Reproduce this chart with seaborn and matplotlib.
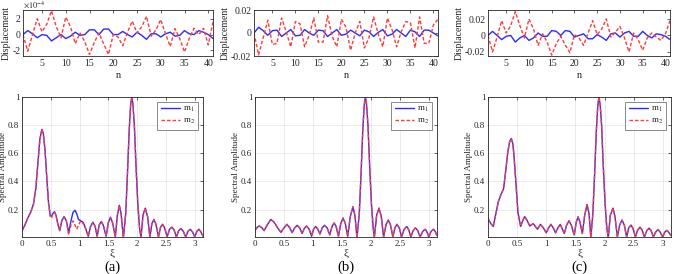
import numpy as np
import pandas as pd
import matplotlib
matplotlib.use("Agg")
import matplotlib.pyplot as plt
import seaborn as sns

# ---------------- data ----------------
n_steps = list(range(1, 42))

# top row displacement (a) in units of 1e-4
disp_a_m1 = [0, 0.5, 0.1, -0.4, 0.0, -0.1, -0.8, -0.4, 0.0, -0.5, -0.2, 0.3, -0.1, 0.0, 0.6,
             0.6, 0.0, 0.7, 0.7, 0.0, 0.0, 0.4, 0.0, -0.3, 0.3, -0.1, -0.6, 0.1, 0.1, -0.3,
             0.1, 0.3, -0.2, -0.1, 0.5, 0.1, 0.0, 0.5, 0.3, 0.0, -0.5]
disp_a_m2 = [0, -2.1, 0.0, 2.0, 0.35, 1.3, 3.0, 1.0, -0.4, 2.2, 1.0, -1.15, 0.2, -0.9, -2.5,
             -1.0, 0.2, -1.2, -2.5, 0.0, -0.3, -1.4, 0.3, 1.7, 0.2, 1.0, 2.3, -0.2, 0.6, 1.9,
             0.1, -1.5, 0.75, -0.5, -2.2, -0.5, 0.8, 0.0, 0.8, -1.3, 1.6]
# top row displacement (b) in units of 1e-3
disp_b_m1 = [0, 5, 2, -2, 2, 2.5, -3, 0, 3, -2.5, -2, 3, 0, -2, 2.5, 2, -3, 0, 3, -2, -1,
             2.5, 0, -2.5, 2.5, 1, -3, 0.5, 3, -2.5, -1, 3, 0, -3, 2.5, 1, -3, 2.5, 2.5, 0, -2.5]
disp_b_m2 = [0, -19, -4, 11, -10, -9, 13, 1, -12, 10, 8, -12, -2, 13, -8, -8, 15, -3, -12, 12,
             5, -15, 0, 10, -13, -4, 14, -1, -12, 13, 3, -12, 1, 10, 9, -13, 14, -9, -9, 7, 12]
# top row displacement (c) in units of 1e-3
disp_c_m1 = [0, 5, 0, -5, -1, 0, -8, -3, 0, -6, -3, 3, -1, -1, 6, 5, 0, 6, 5, -2, 0, 2, -4,
             -4, 1, -2, -6, 2, 3, -2, 3, 5, -1, -1, 5, 0, -3, 2, 1, -1, -5]
disp_c_m2 = [0, -20, -2, 18, 3, 12, 29, 12, -3, 20, 8, -12, 2, -8, -24, -10, -1, -12, -21, 1,
             -3, -12, 3, 18, 1, 8, 20, -2, 4, 11, -3, -20, 3, -5, -18, -3, 3, -2, -6, 2, 18]

# spectra (a)
xi_a = [0.00, 0.05, 0.10, 0.15, 0.20, 0.24, 0.28, 0.31, 0.345, 0.37, 0.40, 0.43, 0.46, 0.49,
        0.51, 0.54, 0.565, 0.59, 0.62, 0.655, 0.69, 0.73, 0.77, 0.81, 0.85, 0.885, 0.92, 0.95,
        0.98, 1.02, 1.06, 1.10, 1.15, 1.19, 1.23, 1.27, 1.305, 1.34, 1.375, 1.41, 1.46, 1.50,
        1.535, 1.57, 1.62, 1.655, 1.69, 1.72, 1.76, 1.80, 1.83, 1.86, 1.885, 1.905, 1.925,
        1.95, 1.98, 2.01, 2.04, 2.065, 2.10, 2.14, 2.18, 2.22, 2.255, 2.29, 2.325, 2.37, 2.405,
        2.44, 2.475, 2.52, 2.56, 2.60, 2.64, 2.68, 2.72, 2.76, 2.80, 2.84, 2.88, 2.92, 2.96,
        3.00, 3.035, 3.07, 3.10, 3.14]
spec_a_m1 = [0.048, 0.09, 0.14, 0.18, 0.24, 0.35, 0.55, 0.70, 0.77, 0.74, 0.62, 0.43, 0.25,
             0.16, 0.15, 0.175, 0.185, 0.16, 0.10, 0.05, 0.12, 0.15, 0.12, 0.035, 0.12, 0.18,
             0.195, 0.17, 0.13, 0.12, 0.11, 0.07, 0.01, 0.08, 0.11, 0.08, 0.01, 0.09, 0.115,
             0.09, 0.01, 0.11, 0.145, 0.11, 0.005, 0.16, 0.23, 0.17, 0.0, 0.17, 0.45, 0.76,
             0.94, 1.0, 0.95, 0.8, 0.5, 0.24, 0.07, 0.0, 0.16, 0.21, 0.15, 0.005, 0.10, 0.13,
             0.095, 0.005, 0.075, 0.095, 0.07, 0.005, 0.06, 0.075, 0.055, 0.005, 0.05, 0.065,
             0.045, 0.005, 0.045, 0.06, 0.04, 0.005, 0.045, 0.06, 0.045, 0.012]
spec_a_m2 = [0.048, 0.09, 0.14, 0.18, 0.24, 0.35, 0.55, 0.70, 0.77, 0.74, 0.62, 0.43, 0.25,
             0.15, 0.14, 0.17, 0.18, 0.16, 0.10, 0.05, 0.12, 0.15, 0.12, 0.02, 0.09, 0.12,
             0.09, 0.06, 0.09, 0.12, 0.10, 0.07, 0.01, 0.08, 0.11, 0.08, 0.01, 0.09, 0.115,
             0.09, 0.01, 0.11, 0.145, 0.11, 0.005, 0.16, 0.23, 0.17, 0.0, 0.17, 0.45, 0.76,
             0.94, 1.0, 0.95, 0.8, 0.5, 0.24, 0.07, 0.0, 0.16, 0.21, 0.15, 0.005, 0.10, 0.13,
             0.095, 0.005, 0.075, 0.095, 0.07, 0.005, 0.06, 0.075, 0.055, 0.005, 0.05, 0.065,
             0.045, 0.005, 0.045, 0.06, 0.04, 0.005, 0.045, 0.06, 0.045, 0.012]

# spectra (b)
xi_b = [0.00, 0.04, 0.076, 0.12, 0.157, 0.21, 0.273, 0.33, 0.39, 0.448, 0.50, 0.552, 0.60,
        0.64, 0.685, 0.727, 0.77, 0.814, 0.85, 0.89, 0.935, 0.977, 1.01, 1.047, 1.085, 1.122,
        1.16, 1.20, 1.245, 1.29, 1.33, 1.366, 1.40, 1.44, 1.48, 1.52, 1.56, 1.60, 1.645, 1.69,
        1.725, 1.76, 1.80, 1.83, 1.86, 1.885, 1.905, 1.925, 1.95, 1.98, 2.01, 2.04, 2.06,
        2.10, 2.14, 2.18, 2.22, 2.26, 2.30, 2.34, 2.38, 2.415, 2.45, 2.49, 2.53, 2.575, 2.62,
        2.655, 2.69, 2.73, 2.77, 2.81, 2.85, 2.895, 2.94, 2.97, 3.00, 3.04, 3.08, 3.11, 3.14]
spec_b_m1 = [0.052, 0.075, 0.083, 0.07, 0.05, 0.09, 0.13, 0.11, 0.07, 0.038, 0.07, 0.095,
             0.07, 0.036, 0.07, 0.088, 0.07, 0.03, 0.065, 0.083, 0.06, 0.01, 0.06, 0.08, 0.06,
             0.026, 0.07, 0.088, 0.07, 0.02, 0.08, 0.105, 0.08, 0.01, 0.10, 0.14, 0.10, 0.01,
             0.15, 0.22, 0.16, 0.0, 0.17, 0.45, 0.76, 0.94, 1.0, 0.95, 0.8, 0.5, 0.24, 0.07,
             0.0, 0.16, 0.21, 0.15, 0.005, 0.09, 0.125, 0.09, 0.005, 0.07, 0.095, 0.07, 0.005,
             0.06, 0.08, 0.055, 0.005, 0.05, 0.07, 0.05, 0.005, 0.045, 0.06, 0.04, 0.005, 0.045,
             0.06, 0.045, 0.015]
spec_b_m2 = [0.052, 0.075, 0.083, 0.07, 0.05, 0.09, 0.13, 0.11, 0.07, 0.038, 0.07, 0.095,
             0.07, 0.036, 0.07, 0.088, 0.07, 0.03, 0.065, 0.083, 0.06, 0.02, 0.06, 0.08, 0.06,
             0.026, 0.07, 0.088, 0.07, 0.02, 0.08, 0.105, 0.08, 0.01, 0.10, 0.14, 0.10, 0.01,
             0.15, 0.22, 0.16, 0.0, 0.17, 0.45, 0.76, 0.94, 1.0, 0.95, 0.8, 0.5, 0.24, 0.07,
             0.0, 0.16, 0.21, 0.15, 0.005, 0.09, 0.125, 0.09, 0.005, 0.07, 0.095, 0.07, 0.005,
             0.06, 0.08, 0.055, 0.005, 0.05, 0.07, 0.05, 0.005, 0.045, 0.06, 0.04, 0.005, 0.045,
             0.06, 0.045, 0.015]

# spectra (c)
xi_c = [0.00, 0.05, 0.09, 0.14, 0.18, 0.225, 0.266, 0.30, 0.34, 0.37, 0.40, 0.425, 0.445,
        0.486, 0.514, 0.56, 0.595, 0.63, 0.675, 0.717, 0.775, 0.85, 0.90, 0.95, 1.00, 1.04,
        1.08, 1.12, 1.16, 1.20, 1.24, 1.31, 1.35, 1.39, 1.43, 1.48, 1.515, 1.545, 1.58, 1.62,
        1.66, 1.70, 1.735, 1.765, 1.80, 1.83, 1.86, 1.885, 1.905, 1.925, 1.95, 1.98, 2.01,
        2.04, 2.065, 2.10, 2.145, 2.18, 2.22, 2.26, 2.30, 2.34, 2.38, 2.415, 2.455, 2.49,
        2.53, 2.57, 2.61, 2.645, 2.685, 2.725, 2.765, 2.80, 2.84, 2.88, 2.92, 2.955, 3.00,
        3.035, 3.07, 3.10, 3.14]
spec_c_m1 = [0.135, 0.10, 0.08, 0.18, 0.26, 0.31, 0.345, 0.46, 0.61, 0.68, 0.705, 0.67, 0.59,
             0.35, 0.18, 0.08, 0.12, 0.15, 0.12, 0.083, 0.10, 0.06, 0.095, 0.07, 0.035, 0.07,
             0.095, 0.07, 0.035, 0.07, 0.095, 0.03, 0.09, 0.12, 0.09, 0.02, 0.11, 0.148, 0.11,
             0.03, 0.16, 0.235, 0.17, 0.0, 0.17, 0.45, 0.76, 0.94, 1.0, 0.95, 0.8, 0.5, 0.24,
             0.07, 0.0, 0.16, 0.21, 0.15, 0.005, 0.09, 0.125, 0.09, 0.005, 0.07, 0.09, 0.065,
             0.005, 0.055, 0.075, 0.055, 0.005, 0.05, 0.068, 0.05, 0.005, 0.042, 0.058, 0.04,
             0.005, 0.04, 0.052, 0.04, 0.015]
spec_c_m2 = list(spec_c_m1)

BLUE = "#2b2bff"
RED = "#ff3a3a"
EDGE = "#262626"

# ---------------- figure ----------------
sns.set_style("white")
plt.rcParams["font.family"] = ["Liberation Serif", "DejaVu Serif"]
plt.rcParams["mathtext.fontset"] = "stix"

W, H = 674, 274
fig = plt.figure(figsize=(W / 100, H / 100), dpi=100)


def box(l, r, t, b):
    return [l / W, 1 - b / H, (r - l) / W, (b - t) / H]


def style(ax, size=7):
    for s in ax.spines.values():
        s.set_visible(True)
        s.set_color(EDGE)
        s.set_linewidth(0.6)
    ax.tick_params(direction="in", length=2.5, width=0.5, labelsize=size, colors=EDGE,
                   top=True, right=True, pad=2)


top_boxes = [(23, 213, 10, 56), (254, 438, 10, 56), (488, 670, 10, 56)]
bot_boxes = [(22, 203, 97, 237), (255, 437, 97, 237), (488, 671, 97, 237)]

top_data = [(disp_a_m1, disp_a_m2, 1e-4), (disp_b_m1, disp_b_m2, 1e-3), (disp_c_m1, disp_c_m2, 1e-3)]
top_ylims = [(-2.7e-4, 3.1e-4), (-0.02, 0.02), (-0.025, 0.031)]
top_yticks = [([-2e-4, 0, 2e-4], ["-2", "0", "2"]),
              ([-0.02, 0, 0.02], ["-0.02", "0", "0.02"]),
              ([-0.02, 0, 0.02], ["-0.02", "0", "0.02"])]

for i, ((l, r, t, b), (m1, m2, sc), yl, (yt, ytl)) in enumerate(zip(top_boxes, top_data, top_ylims, top_yticks)):
    ax = fig.add_axes(box(l, r, t, b))
    df = pd.DataFrame({"n": n_steps, "m1": np.array(m1) * sc, "m2": np.array(m2) * sc})
    sns.lineplot(data=df, x="n", y="m1", color=BLUE, lw=1.0, ax=ax)
    sns.lineplot(data=df, x="n", y="m2", color=RED, lw=1.0, linestyle=(0, (2.5, 1.5)), ax=ax)
    ax.set_xlim(1, 41)
    ax.set_ylim(*yl)
    ax.set_xticks([5, 10, 15, 20, 25, 30, 35, 40])
    ax.set_xticklabels(["5", "10", "15", "20", "25", "30", "35", "40"])
    ax.set_yticks(yt)
    ax.set_yticklabels(ytl)
    ax.set_xlabel("n", fontsize=7.5, labelpad=2)
    ax.set_ylabel("Displacement", fontsize=7, labelpad=1)
    style(ax)
    if i == 0:
        ax.text(0.0, 1.0, r"$\times10^{-4}$", transform=ax.transAxes, fontsize=6,
                color=EDGE, ha="left", va="bottom")

spectra = [(xi_a, spec_a_m1, spec_a_m2), (xi_b, spec_b_m1, spec_b_m2), (xi_c, spec_c_m1, spec_c_m2)]
tags = ["(a)", "(b)", "(c)"]
for (l, r, t, b), (xi, s1, s2), tag in zip(bot_boxes, spectra, tags):
    ax = fig.add_axes(box(l, r, t, b))
    df = pd.DataFrame({"xi": xi, "m1": s1, "m2": s2})
    ax.grid(True, color="#e3e3e3", lw=0.5)
    ax.set_axisbelow(True)
    sns.lineplot(data=df, x="xi", y="m1", color=BLUE, lw=1.0, label="m$_1$", ax=ax)
    sns.lineplot(data=df, x="xi", y="m2", color=RED, lw=1.0, linestyle=(0, (2.5, 1.5)),
                 label="m$_2$", ax=ax)
    ax.set_xlim(0, 3.1416)
    ax.set_ylim(0.005, 1.0)
    ax.set_xticks([0, 0.5, 1, 1.5, 2, 2.5, 3])
    ax.set_xticklabels(["0", "0.5", "1", "1.5", "2", "2.5", "3"])
    ax.set_yticks([0.2, 0.4, 0.6, 0.8, 1.0])
    ax.set_yticklabels(["0.2", "0.4", "0.6", "0.8", "1"])
    ax.set_xlabel("ξ", fontsize=8, labelpad=1)
    ax.set_ylabel("Spectral Amplitude", fontsize=6.5, labelpad=1)
    style(ax, size=6.5)
    leg = ax.legend(loc="upper right", fontsize=6.5, frameon=True, fancybox=False,
                    handlelength=2.2, handletextpad=0.3, borderpad=0.35, labelspacing=0.3,
                    borderaxespad=0.5)
    leg.get_frame().set_edgecolor("#555555")
    leg.get_frame().set_linewidth(0.6)
    fig.text((l + r) / 2 / W, 1 - 267 / H, tag, ha="center", va="center", fontsize=10.5,
             color="black")

fig.savefig("out.png", dpi=100)
